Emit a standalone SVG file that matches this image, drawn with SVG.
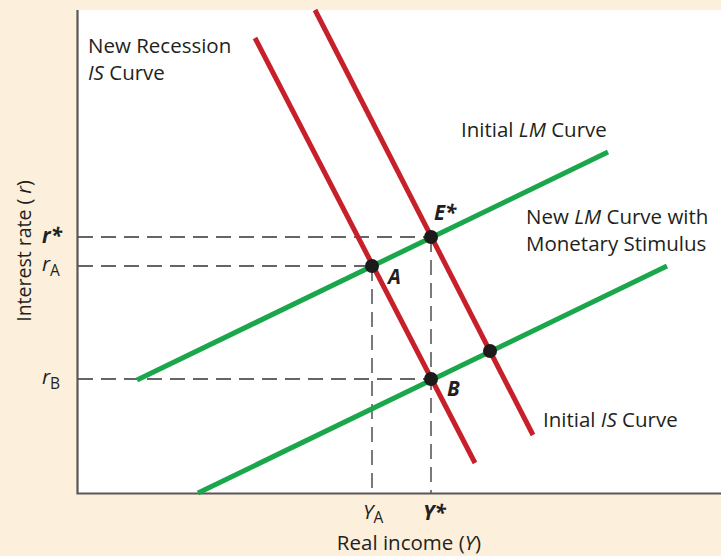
<svg xmlns="http://www.w3.org/2000/svg" width="721" height="556" viewBox="0 0 721 556">
<style>
.t{font-family:"Open Sans","Liberation Sans",sans-serif;font-size:20.5px;fill:#231f20}
.bi{font-weight:bold;font-style:italic}
.i{font-style:italic}
.s{font-style:normal;font-size:15.5px}
.is{stroke:#c8202a;stroke-width:5;fill:none;stroke-linecap:butt}
.lm{stroke:#1aa64b;stroke-width:5;fill:none}
.d{stroke:#333;stroke-width:1.3;stroke-dasharray:15 8;fill:none}
.pt{fill:#1c1a1b}
</style>
<rect width="721" height="556" fill="#fcefdb"/>
<rect x="78" y="10" width="643" height="483" fill="#fff"/>
<g id="guides">
<path class="d" d="M78 237H431M78 266H372M78 379H431M372 266V493M431 237V493"/>
</g>
<g id="axes">
<path d="M77.5 10V493.5H721" stroke="#5a5656" stroke-width="2.2" fill="none"/>
</g>
<g id="connectors">
<line id="initial-is" class="is" x1="315" y1="10" x2="533" y2="435"/>
<line id="new-is" class="is" x1="255" y1="38" x2="475" y2="463"/>
<line id="initial-lm" class="lm" x1="137" y1="380" x2="608" y2="152"/>
<line id="new-lm" class="lm" x1="198" y1="493" x2="667" y2="266"/>
</g>
<g id="point-E"><circle class="pt" cx="431" cy="237" r="7"/><text class="t bi" x="434" y="220">E*</text></g>
<g id="point-A"><circle class="pt" cx="372" cy="266" r="7"/><text class="t bi" x="388" y="284">A</text></g>
<g id="point-B"><circle class="pt" cx="431" cy="379" r="7"/><text class="t bi" x="447" y="396">B</text></g>
<g id="point-C"><circle class="pt" cx="490" cy="351" r="7"/></g>
<g id="label-new-is"><text class="t" x="88" y="53">New Recession</text><text class="t" x="88" y="80"><tspan class="i">IS</tspan> Curve</text></g>
<g id="label-initial-lm"><text class="t" x="461" y="137">Initial <tspan class="i">LM</tspan> Curve</text></g>
<g id="label-new-lm"><text class="t" x="526" y="224">New <tspan class="i">LM</tspan> Curve with</text><text class="t" x="526" y="251">Monetary Stimulus</text></g>
<g id="label-initial-is"><text class="t" x="543" y="427">Initial <tspan class="i">IS</tspan> Curve</text></g>
<g id="y-labels">
<text class="t bi" x="42" y="243">r*</text>
<text class="t i" x="42" y="271">r<tspan class="s" dy="5">A</tspan></text>
<text class="t i" x="42" y="384">r<tspan class="s" dy="5">B</tspan></text>
<text class="t" style="font-size:19.5px" transform="translate(31 251) rotate(-90)" text-anchor="middle">Interest rate ( <tspan class="i">r</tspan>)</text>
</g>
<g id="x-labels">
<text class="t i" x="363" y="519">Y<tspan class="s" dy="4">A</tspan></text>
<text class="t bi" x="423" y="520">Y*</text>
<text class="t" x="409" y="550" text-anchor="middle">Real income (<tspan class="i">Y</tspan>)</text>
</g>
</svg>
